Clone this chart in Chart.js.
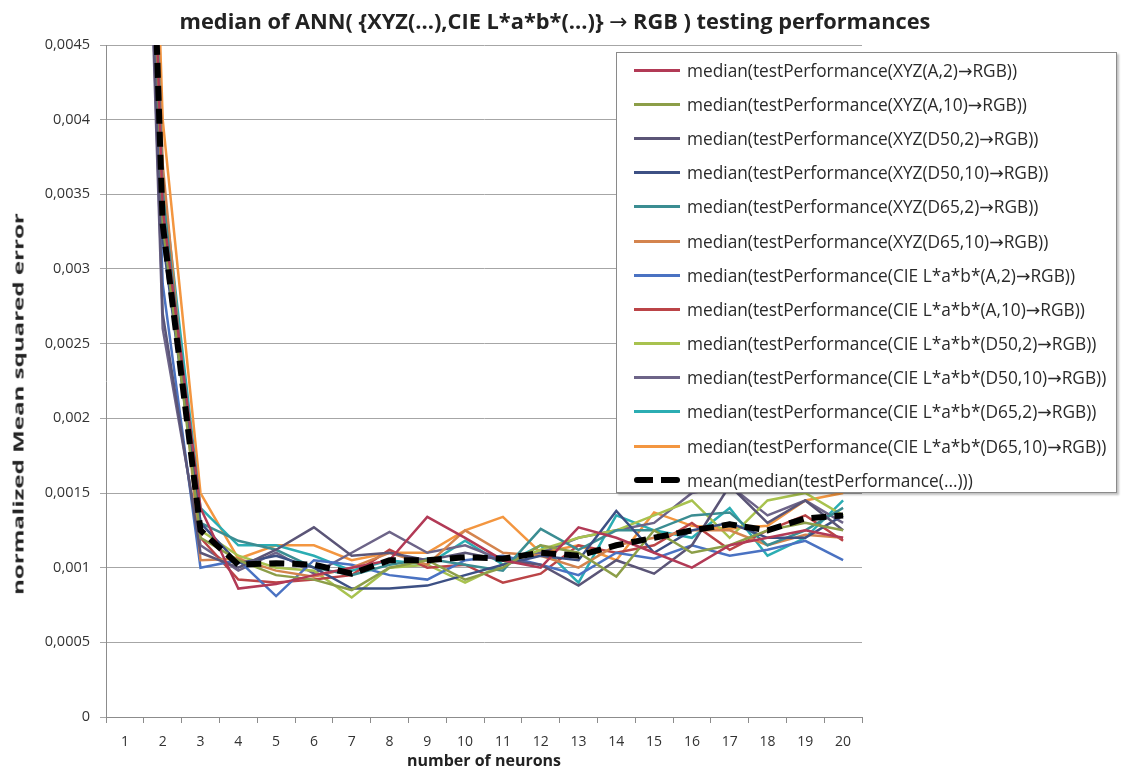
<!DOCTYPE html>
<html>
<head>
<meta charset="utf-8">
<script src="https://cdn.jsdelivr.net/npm/chart.js@4.4.0/dist/chart.umd.min.js"></script>
<style>
  html, body { margin: 0; padding: 0; background: #fff; }
  #wrap { position: relative; width: 1121px; height: 771px; overflow: hidden; }
  #title {
    position: absolute; left: 0; width: 1110px; top: 6px; text-align: center;
    font-family: "Open Sans", sans-serif; font-weight: bold; font-size: 21.8px; color: #222; white-space: nowrap;
  }
  #ytitle {
    position: absolute; left: 18px; top: 404px; white-space: nowrap;
    font-family: "Open Sans", sans-serif; font-weight: bold; font-size: 14px; color: #222;
    transform: translate(-50%, -50%) rotate(-90deg) scaleX(1.72);
  }
  .arr { font-family: "DejaVu Sans", sans-serif; font-weight: normal; }
  #legend {
    position: absolute; left: 616px; top: 52px; width: 501px; height: 441px;
    background: #fff; border: 1px solid #8a8a8a; box-shadow: 2px 2px 2px rgba(0,0,0,0.25);
    box-sizing: border-box;
    font-family: "Open Sans", sans-serif; font-size: 17.3px; color: #2a2a2a;
  }
  .row { height: 34.2px; display: flex; align-items: center; white-space: nowrap; }
  .sw { width: 46px; margin-left: 17px; margin-right: 7px; height: 0; border-top: 3px solid; }
  .sw.dash { border-top: none; width: 46px; height: 6px;
    background: repeating-linear-gradient(90deg, #000 0 19px, transparent 19px 27px); border-radius: 3px; }
</style>
</head>
<body>
<div id="wrap">
  <canvas id="chart" width="1121" height="771"></canvas>
  <div id="title">median of ANN( {XYZ(...),CIE L*a*b*(...)} <span class="arr">&rarr;</span> RGB ) testing performances</div>
  <div id="ytitle">normalized Mean squared error</div>
  <div id="legend"></div>
</div>
<script>
const categories = ['1','2','3','4','5','6','7','8','9','10','11','12','13','14','15','16','17','18','19','20'];
const yTicks = [0, 0.0005, 0.001, 0.0015, 0.002, 0.0025, 0.003, 0.0035, 0.004, 0.0045];

const seriesLabels = [
  'median(testPerformance(XYZ(A,2)\u2192RGB))',
  'median(testPerformance(XYZ(A,10)\u2192RGB))',
  'median(testPerformance(XYZ(D50,2)\u2192RGB))',
  'median(testPerformance(XYZ(D50,10)\u2192RGB))',
  'median(testPerformance(XYZ(D65,2)\u2192RGB))',
  'median(testPerformance(XYZ(D65,10)\u2192RGB))',
  'median(testPerformance(CIE L*a*b*(A,2)\u2192RGB))',
  'median(testPerformance(CIE L*a*b*(A,10)\u2192RGB))',
  'median(testPerformance(CIE L*a*b*(D50,2)\u2192RGB))',
  'median(testPerformance(CIE L*a*b*(D50,10)\u2192RGB))',
  'median(testPerformance(CIE L*a*b*(D65,2)\u2192RGB))',
  'median(testPerformance(CIE L*a*b*(D65,10)\u2192RGB))'
];
const meanLabel = 'mean(median(testPerformance(...)))';

const xyzA2    = [0.0112, 0.0034, 0.00140, 0.00086, 0.00089, 0.00095, 0.00100, 0.00105, 0.00134, 0.00120, 0.00105, 0.00100, 0.00127, 0.00120, 0.00110, 0.00100, 0.00115, 0.00120, 0.00125, 0.00120];
const xyzA10   = [0.0108, 0.0033, 0.00120, 0.00105, 0.00095, 0.00092, 0.00085, 0.00100, 0.00105, 0.00092, 0.00100, 0.00115, 0.00110, 0.00094, 0.00125, 0.00110, 0.00115, 0.00125, 0.00130, 0.00125];
const xyzD502  = [0.0105, 0.0027, 0.00110, 0.00100, 0.00112, 0.00127, 0.00108, 0.00110, 0.00105, 0.00110, 0.00105, 0.00102, 0.00088, 0.00105, 0.00096, 0.00115, 0.00155, 0.00130, 0.00145, 0.00125];
const xyzD5010 = [0.0110, 0.0032, 0.00130, 0.00103, 0.00108, 0.00100, 0.00086, 0.00086, 0.00088, 0.00095, 0.00102, 0.00108, 0.00105, 0.00138, 0.00110, 0.00125, 0.00130, 0.00120, 0.00120, 0.00135];
const xyzD652  = [0.0114, 0.0035, 0.00130, 0.00118, 0.00112, 0.00100, 0.00095, 0.00102, 0.00106, 0.00102, 0.00098, 0.00126, 0.00112, 0.00125, 0.00125, 0.00135, 0.00137, 0.00115, 0.00125, 0.00140];
const xyzD6510 = [0.0116, 0.0037, 0.00105, 0.00106, 0.00098, 0.00094, 0.00100, 0.00110, 0.00102, 0.00125, 0.00110, 0.00108, 0.00100, 0.00115, 0.00120, 0.00125, 0.00125, 0.00115, 0.00122, 0.00120];
const labA2    = [0.0106, 0.0029, 0.00100, 0.00105, 0.00081, 0.00105, 0.00102, 0.00095, 0.00092, 0.00105, 0.00108, 0.00102, 0.00095, 0.00110, 0.00106, 0.00115, 0.00108, 0.00112, 0.00118, 0.00105];
const labA10   = [0.0111, 0.0034, 0.00120, 0.00092, 0.00090, 0.00092, 0.00095, 0.00112, 0.00100, 0.00102, 0.00090, 0.00096, 0.00115, 0.00110, 0.00115, 0.00130, 0.00112, 0.00125, 0.00135, 0.00118];
const labD502  = [0.0109, 0.0033, 0.00125, 0.00108, 0.00100, 0.00098, 0.00080, 0.00100, 0.00102, 0.00090, 0.00102, 0.00112, 0.00120, 0.00125, 0.00135, 0.00145, 0.00120, 0.00145, 0.00150, 0.00135];
const labD5010 = [0.0104, 0.0026, 0.00115, 0.00098, 0.00110, 0.00096, 0.00110, 0.00124, 0.00110, 0.00115, 0.00105, 0.00110, 0.00120, 0.00125, 0.00130, 0.00150, 0.00155, 0.00135, 0.00145, 0.00130];
const labD652  = [0.0113, 0.0036, 0.00140, 0.00115, 0.00115, 0.00108, 0.00098, 0.00105, 0.00102, 0.00118, 0.00102, 0.00115, 0.00090, 0.00135, 0.00125, 0.00120, 0.00140, 0.00108, 0.00120, 0.00145];
const labD6510 = [0.0118, 0.0040, 0.00150, 0.00106, 0.00115, 0.00115, 0.00105, 0.00110, 0.00110, 0.00125, 0.00134, 0.00110, 0.00115, 0.00105, 0.00137, 0.00128, 0.00126, 0.00128, 0.00145, 0.00150];
const meanValues = [0.0110, 0.0033, 0.00125, 0.00102, 0.00103, 0.00102, 0.00096, 0.00105, 0.00105, 0.00107, 0.00106, 0.00110, 0.00108, 0.00115, 0.00120, 0.00125, 0.00129, 0.00125, 0.00133, 0.00135];

const seriesValues = [xyzA2, xyzA10, xyzD502, xyzD5010, xyzD652, xyzD6510, labA2, labA10, labD502, labD5010, labD652, labD6510];
const seriesColors = ['#b23a56', '#8c9e48', '#5b5577', '#3d5084', '#3b8d92', '#d4844e',
                      '#4a72c2', '#bb4447', '#a8c24f', '#6d6488', '#2badb3', '#f39640'];

function fmtTick(v) {
  if (v === 0) return '0';
  return String(Number(v.toFixed(4))).replace('.', ',');
}

const datasets = seriesValues.map((vals, i) => ({
  label: seriesLabels[i], data: vals, borderColor: seriesColors[i], borderWidth: 2.5,
  pointRadius: 0, tension: 0, fill: false
}));
datasets.push({
  label: meanLabel, data: meanValues, borderColor: '#000', borderWidth: 6,
  borderDash: [15, 8], pointRadius: 0, tension: 0, fill: false, order: -1
});

const chart = new Chart(document.getElementById('chart'), {
  type: 'line',
  data: { labels: categories, datasets },
  options: {
    responsive: false,
    animation: false,
    layout: { padding: { left: 0, right: 259, top: 45, bottom: 0 } },
    plugins: {
      legend: { display: false },
      tooltip: { enabled: false }
    },
    scales: {
      x: {
        offset: true,
        grid: { offset: true, drawOnChartArea: false, drawTicks: true, tickLength: 6, color: '#8c8c8c' },
        border: { color: '#8c8c8c' },
        ticks: { font: { family: 'Open Sans', size: 14 }, color: '#333', padding: 11, maxRotation: 0 },
        title: { display: true, text: 'number of neurons', font: { family: 'Open Sans', size: 16, weight: 'bold' }, color: '#222', padding: { top: 0, bottom: 0 } },
        afterFit: s => { s.height = 54; }
      },
      y: {
        min: 0, max: 0.0045,
        afterBuildTicks: s => { s.ticks = yTicks.map(v => ({ value: v })); },
        grid: { color: '#a6a6a6', tickLength: 6 },
        border: { color: '#8c8c8c' },
        ticks: { font: { family: 'Open Sans', size: 14.5 }, color: '#333', padding: 10, callback: v => fmtTick(v) },
        afterFit: s => { s.width = 106; }
      }
    }
  }
});

const legendEl = document.getElementById('legend');
chart.data.datasets.forEach(ds => {
  const row = document.createElement('div');
  row.className = 'row';
  const sw = document.createElement('span');
  sw.className = ds.borderDash ? 'sw dash' : 'sw';
  if (!ds.borderDash) sw.style.borderTopColor = ds.borderColor;
  const tx = document.createElement('span');
  ds.label.split('\u2192').forEach((part, k) => {
    if (k > 0) {
      const a = document.createElement('span');
      a.className = 'arr';
      a.textContent = '\u2192';
      tx.appendChild(a);
    }
    tx.appendChild(document.createTextNode(part));
  });
  row.appendChild(sw);
  row.appendChild(tx);
  legendEl.appendChild(row);
});
</script>
</body>
</html>
